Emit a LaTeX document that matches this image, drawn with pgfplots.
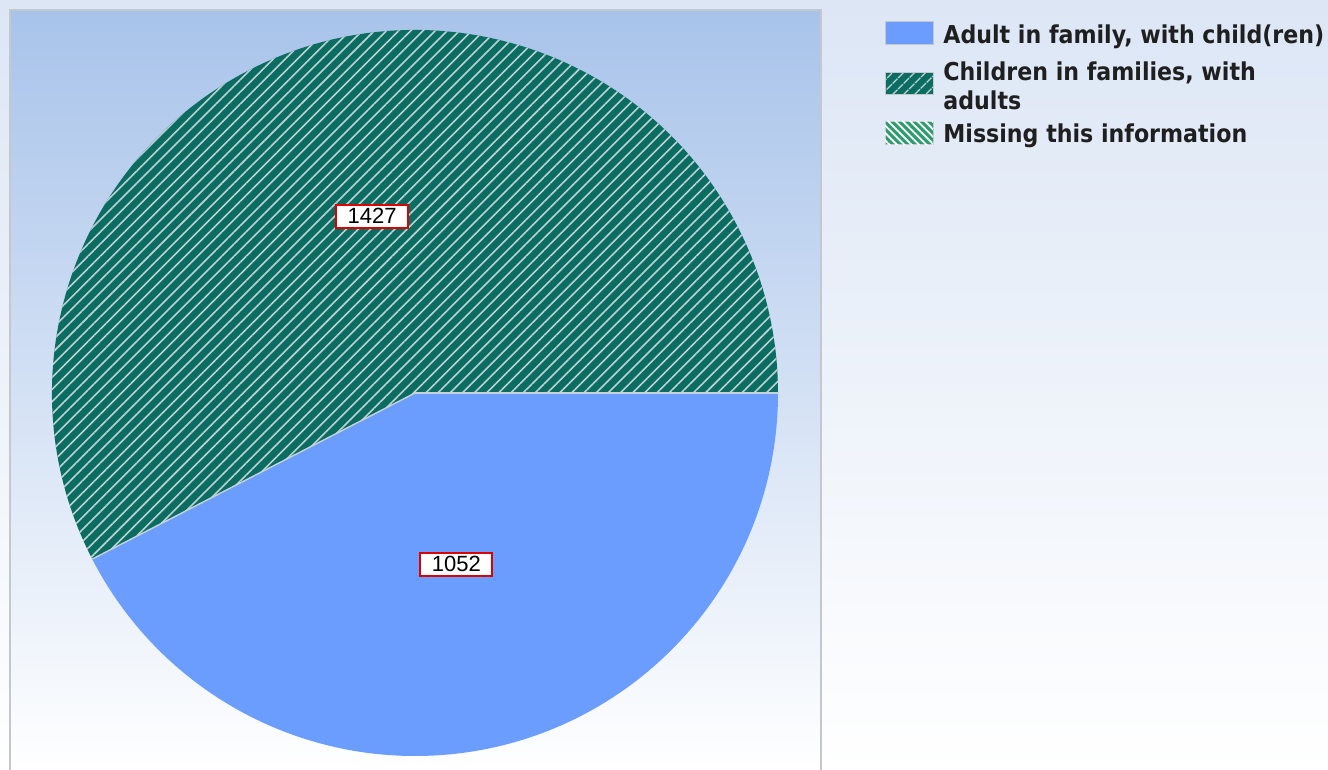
\documentclass[border=0pt]{standalone}
\usepackage{fontspec}
\setmainfont{Liberation Sans}
\newfontfamily\legfont{DejaVu Sans Condensed Bold}
\usepackage{pgfplots}
\pgfplotsset{compat=1.18}
\usepackage{pgfplotstable}
\usetikzlibrary{patterns.meta}

\definecolor{bgtop}{HTML}{DCE6F5}
\definecolor{plottop}{HTML}{A8C3EA}
\definecolor{plotmid}{HTML}{D2E0F4}
\definecolor{framegray}{HTML}{C4C8CC}
\definecolor{adultblue}{HTML}{6A9DFE}
\definecolor{childteal}{HTML}{0B6D62}
\definecolor{stripe}{HTML}{BCD2D2}
\definecolor{missgreen}{HTML}{2E9C6E}
\definecolor{edgec}{HTML}{C6D2D6}
\definecolor{lblred}{HTML}{DD0000}

\pgfplotstableread{
slice value
Adult 1052
Children 1427
Missing 0
}\piedata

\begin{document}
\begin{tikzpicture}
\pgfplotstablegetelem{0}{value}\of\piedata\edef\va{\pgfplotsretval}
\pgfplotstablegetelem{1}{value}\of\piedata\edef\vb{\pgfplotsretval}
\pgfplotstablegetelem{2}{value}\of\piedata\edef\vc{\pgfplotsretval}
\pgfmathsetmacro\tot{\va+\vb+\vc}
\pgfmathsetmacro\fa{\va/\tot}
\pgfmathsetmacro\fb{\vb/\tot}
\pgfmathsetmacro\angA{-360*\fa}
\pgfmathsetmacro\angB{\angA-360*\fb}
\pgfmathsetmacro\midA{\angA/2}
\pgfmathsetmacro\midB{(\angA+\angB)/2}
\begin{axis}[hide axis, scale only axis, width=664pt, height=385pt,
  xmin=0, xmax=1328, ymin=0, ymax=770, clip=false]
\coordinate (bl) at (axis cs:0,0);
\coordinate (tr) at (axis cs:1328,770);
% backgrounds
\shade[top color=bgtop, bottom color=white] (axis cs:0,0) rectangle (axis cs:1328,770);
\shade[top color=plottop, middle color=plotmid, bottom color=white] (axis cs:10,0) rectangle (axis cs:821,760);
\draw[framegray, line width=1pt] (axis cs:10,0) -- (axis cs:10,760) -- (axis cs:821,760) -- (axis cs:821,0);
% pie
\fill[adultblue] (axis cs:415,377) -- ++(0:181.5pt) arc[start angle=0, end angle=\angA, radius=181.5pt] -- cycle;
\fill[childteal] (axis cs:415,377) -- ++(\angA:181.5pt) arc[start angle=\angA, end angle=\angB, radius=181.5pt] -- cycle;
\fill[pattern={Lines[angle=45, distance=4.3pt, line width=0.8pt]}, pattern color=stripe] (axis cs:415,377) -- ++(\angA:181.5pt) arc[start angle=\angA, end angle=\angB, radius=181.5pt] -- cycle;
\draw[edgec, line width=0.7pt] (axis cs:415,377) -- ++(0:181.5pt);
\draw[edgec, line width=0.7pt] (axis cs:415,377) -- ++(\angA:181.5pt);
% labels
\path (axis cs:415,377) ++(\midA:88pt) node[draw=lblred, line width=1pt, fill=white, minimum width=36pt, minimum height=11.5pt, inner sep=0pt, font=\fontsize{11pt}{12pt}\selectfont] {\va};
\path (axis cs:415,377) ++(\midB:91pt) node[draw=lblred, line width=1pt, fill=white, minimum width=36pt, minimum height=11.5pt, inner sep=0pt, font=\fontsize{11pt}{12pt}\selectfont] {\vb};
% legend
\fill[adultblue, draw=framegray, line width=0.5pt] (axis cs:885,748) rectangle (axis cs:933,725);
\fill[childteal, draw=framegray, line width=0.5pt] (axis cs:885,697) rectangle (axis cs:933,675);
\fill[pattern={Lines[angle=45, distance=4pt, line width=0.8pt]}, pattern color=stripe] (axis cs:885,697) rectangle (axis cs:933,675);
\fill[missgreen, draw=framegray, line width=0.5pt] (axis cs:885,648) rectangle (axis cs:933,625);
\fill[pattern={Lines[angle=-45, distance=2.6pt, line width=0.9pt]}, pattern color=white] (axis cs:885,648) rectangle (axis cs:933,625);
\node[anchor=west, inner sep=0pt, font=\legfont\fontsize{12.3pt}{14.5pt}\selectfont, text=black!88] at (axis cs:943,733) {Adult in family, with child(ren)};
\node[anchor=west, inner sep=0pt, align=left, font=\legfont\fontsize{12.3pt}{14.5pt}\selectfont, text=black!88] at (axis cs:943,684.5) {Children in families, with\\adults};
\node[anchor=west, inner sep=0pt, font=\legfont\fontsize{12.3pt}{14.5pt}\selectfont, text=black!88] at (axis cs:943,634) {Missing this information};
\end{axis}
\pgfresetboundingbox
\path[use as bounding box] (bl) rectangle (tr);
\end{tikzpicture}
\end{document}
